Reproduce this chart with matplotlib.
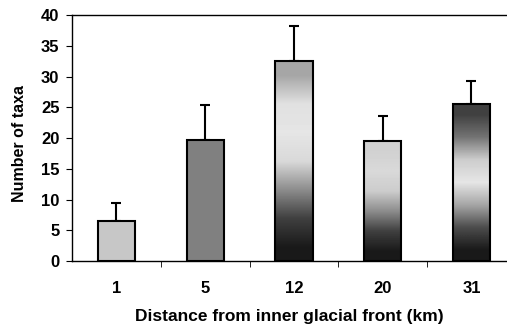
import numpy as np
import matplotlib
matplotlib.use("Agg")
import matplotlib.pyplot as plt
from matplotlib.colors import LinearSegmentedColormap

distances = ["1", "5", "12", "20", "31"]
taxa_mean = [6.5, 19.7, 32.5, 19.5, 25.6]
taxa_err = [2.9, 5.7, 5.7, 4.1, 3.7]

# grey shading of each bar, bottom -> top (0 = black, 1 = white)
shades = [
    [0.78, 0.78],
    [0.50, 0.50],
    [0.10, 0.25, 0.55, 0.85, 0.90, 0.88, 0.65],
    [0.10, 0.25, 0.55, 0.80, 0.85, 0.82],
    [0.10, 0.30, 0.65, 0.90, 0.80, 0.45, 0.25],
]

plt.rcParams["font.family"] = ["Liberation Sans", "DejaVu Sans"]
plt.rcParams["font.weight"] = "bold"

fig = plt.figure(figsize=(5.07, 3.28), dpi=100)
ax = fig.add_axes([0.142, 0.204, 0.858, 0.75])

x = np.arange(len(distances))
width = 0.42
bars = ax.bar(x, taxa_mean, width, color="none", edgecolor="black",
              linewidth=1.5, zorder=3)
ax.errorbar(x, taxa_mean, yerr=[np.zeros(len(x)), taxa_err], fmt="none",
            ecolor="black", elinewidth=1.5, capsize=3.5, capthick=1.5, zorder=2)

grey = LinearSegmentedColormap.from_list("g", ["black", "white"])
for b, s in zip(bars, shades):
    grad = np.array(s).reshape(-1, 1)
    im = ax.imshow(grad, cmap=grey, vmin=0, vmax=1, aspect="auto",
                   origin="lower", interpolation="bilinear",
                   extent=[b.get_x(), b.get_x() + b.get_width(), 0, b.get_height()],
                   zorder=2.5)
    im.set_clip_path(b)

ax.set_xlim(-0.5, 4.4)
ax.set_ylim(0, 40)
ax.set_yticks(range(0, 41, 5))
ax.set_xticks(x)
ax.set_xticklabels(distances)
ax.set_xticks(x[:-1] + 0.5, minor=True)
ax.tick_params(axis="x", which="major", length=0, pad=14, labelsize=12)
ax.tick_params(axis="x", which="minor", length=4, direction="out")
ax.tick_params(axis="y", length=4, direction="out", pad=5, labelsize=12)

ax.spines["right"].set_visible(False)
for sp in ["left", "bottom", "top"]:
    ax.spines[sp].set_linewidth(1.0)

ax.set_ylabel("Number of taxa", fontsize=11.5, fontweight="bold")
ax.yaxis.set_label_coords(-0.103, 0.48)
ax.set_xlabel("Distance from inner glacial front (km)", fontsize=12.5,
              fontweight="bold", labelpad=10)

fig.savefig("out.png", dpi=100)
